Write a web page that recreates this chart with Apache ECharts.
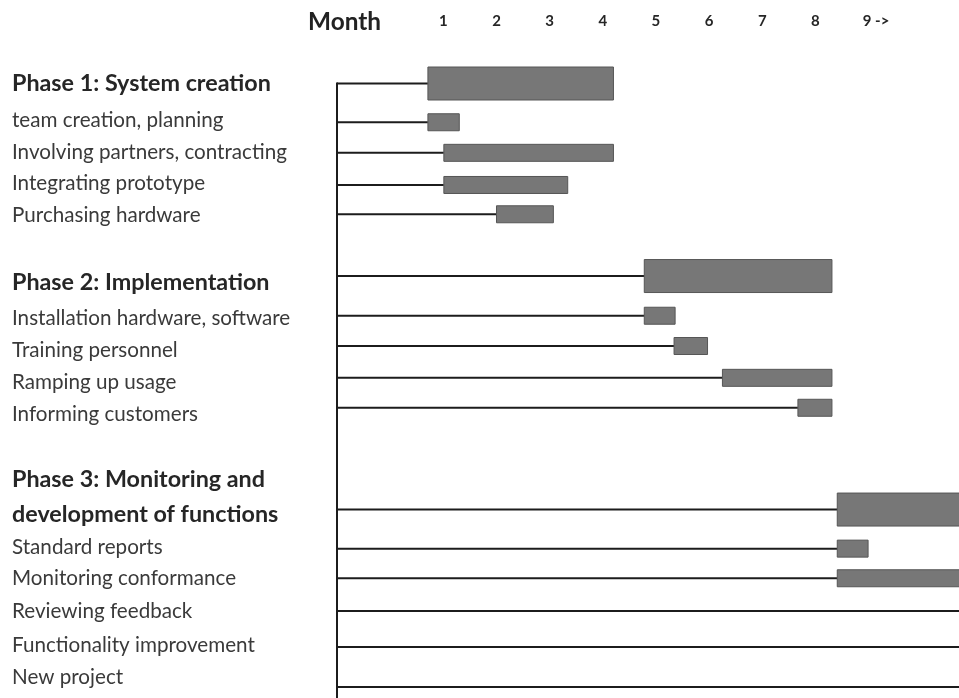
<!DOCTYPE html>
<html><head><meta charset="utf-8">
<script src="https://cdn.jsdelivr.net/npm/echarts@6/dist/echarts.min.js"></script>
<style>html,body{margin:0;padding:0;background:#fff}#c{width:959px;height:698px}</style>
</head><body><div id="c"></div>
<script>
// ---- axis / header ----
const xMin = -1;           // project start (bracket line)
const xMax = 10.7;         // right edge of the view (months)
const monthTicks = [1, 2, 3, 4, 5, 6, 7, 8, 9];
const monthLabels = ['1', '2', '3', '4', '5', '6', '7', '8', '9 ->'];
const headerTitle = 'Month';

// ---- left-hand labels (text and row position) ----
const labelTexts = [
  'Phase 1: System creation',
  'team creation, planning',
  'Involving partners, contracting',
  'Integrating prototype',
  'Purchasing hardware',
  'Phase 2: Implementation',
  'Installation hardware, software',
  'Training personnel',
  'Ramping up usage',
  'Informing customers',
  'Phase 3: Monitoring and',
  'development of functions',
  'Standard reports',
  'Monitoring conformance',
  'Reviewing feedback',
  'Functionality improvement',
  'New project'
];
const labelBold = [1,0,0,0,0, 1,0,0,0,0, 1,1,0,0,0,0,0];
const labelRow = [0, 1.16, 2.17, 3.17, 4.17, 6.30, 7.44, 8.46, 9.48, 10.49, 12.56, 13.67, 14.71, 15.70, 16.75, 17.83, 18.84];

// ---- tasks (row of connector line, start month, end month) ----
const taskRow   = [0, 1.23, 2.20, 3.22, 4.15, 6.11, 7.37, 8.33, 9.34, 10.29, 13.52, 14.76, 15.70, 16.74, 17.88, 19.15];
const taskStart = [0.71, 0.71, 1.01, 1.01, 2.00, 4.78, 4.78, 5.34, 6.25, 7.67, 8.41, 8.41, 8.41, null, null, null];
const taskEnd   = [4.20, 1.30, 4.20, 3.34, 3.07, 8.31, 5.36, 5.97, 8.31, 8.31, 11, 8.99, 11, null, null, null];
const taskPhase = [1,0,0,0,0, 1,0,0,0,0, 1,0,0,0,0,0];
const rowBottom = 19.5;

// ---- font fitting to the reference text widths ----
const FAMILY = 'Lato';
const mctx = document.createElement('canvas').getContext('2d');
function fit(text, weight, target) {
  mctx.font = weight + ' 100px ' + FAMILY;
  return 100 * target / mctx.measureText(text).width;
}
const regSize = fit('Involving partners, contracting', 'normal', 275);
const boldSize = fit('Phase 1: System creation', 'bold', 259);
const monthSize = fit('Month', 'bold', 73);
const tickSize = 15;
mctx.font = 'bold ' + tickSize + 'px ' + FAMILY;
const lastW = mctx.measureText(monthLabels[monthLabels.length - 1]).width;
const firstGlyphW = mctx.measureText('9').width;
const lastPad = Math.max(0, lastW - firstGlyphW - 3);

const chart = echarts.init(document.getElementById('c'), null, {renderer: 'canvas'});

const labelData = labelTexts.map((t, i) => [xMin, labelRow[i], i]);
const connData = taskRow.map((r, i) => [taskStart[i] == null ? xMax : taskStart[i], r, i]);
const barData = [];
taskRow.forEach((r, i) => { if (taskStart[i] != null) barData.push([taskStart[i], taskEnd[i], r, taskPhase[i]]); });

chart.setOption({
  animation: false,
  grid: {left: 337, right: 0, top: 83.5, bottom: 0},
  xAxis: {
    type: 'value', position: 'top', min: xMin, max: xMax, interval: 1,
    axisLine: {show: false}, axisTick: {show: false}, splitLine: {show: false},
    axisLabel: {
      margin: 54, fontFamily: FAMILY, fontWeight: 'bold', fontSize: tickSize, color: '#262626', lineHeight: 16,
      showMaxLabel: false, showMinLabel: false,
      formatter: v => {
        const k = monthTicks.indexOf(v);
        if (k < 0) return '';
        return k === monthTicks.length - 1 ? '{w|' + monthLabels[k] + '}' : monthLabels[k];
      },
      rich: {w: {fontFamily: FAMILY, fontWeight: 'bold', fontSize: tickSize, color: '#262626', lineHeight: 16,
        padding: [0, 0, 0, lastPad]}}
    }
  },
  yAxis: {
    type: 'value', inverse: true, min: 0, max: rowBottom,
    axisLine: {show: false}, axisTick: {show: false}, splitLine: {show: false}, axisLabel: {show: false}
  },
  graphic: [{
    type: 'text', left: 308, top: 10,
    style: {text: headerTitle, font: 'bold ' + monthSize.toFixed(2) + 'px ' + FAMILY, fill: '#222'}
  }],
  series: [
    { // bracket (vertical) line
      type: 'custom', silent: true, z: 1, clip: false,
      data: [[xMin, 0, rowBottom]],
      renderItem: (params, api) => {
        const a = api.coord([api.value(0), api.value(1)]);
        const b = api.coord([api.value(0), api.value(2)]);
        return {type: 'line', shape: {x1: a[0], y1: a[1] - 1, x2: b[0], y2: b[1] + 2},
          style: {stroke: '#1c1c1c', lineWidth: 2}};
      }
    },
    { // connector lines
      type: 'custom', silent: true, z: 2, clip: false,
      data: connData,
      renderItem: (params, api) => {
        const row = api.value(1);
        const a = api.coord([xMin, row]);
        const b = api.coord([api.value(0), row]);
        const right = params.coordSys.x + params.coordSys.width;
        return {type: 'line', shape: {x1: a[0], y1: a[1], x2: Math.min(b[0], right), y2: b[1]},
          style: {stroke: '#1c1c1c', lineWidth: 2}};
      }
    },
    { // bars
      type: 'custom', silent: true, z: 3, clip: false,
      data: barData,
      renderItem: (params, api) => {
        const s = api.coord([api.value(0), api.value(2)]);
        const e = api.coord([api.value(1), api.value(2)]);
        const h = api.value(3) ? 33 : 17;
        const right = params.coordSys.x + params.coordSys.width + 2;
        const x2 = Math.min(e[0], right);
        return {type: 'rect', shape: {x: s[0], y: s[1] - h / 2, width: x2 - s[0], height: h},
          style: {fill: '#777777', stroke: '#565656', lineWidth: 1}};
      }
    },
    { // left labels
      type: 'custom', silent: true, z: 4, clip: false,
      data: labelData,
      renderItem: (params, api) => {
        const i = api.value(2);
        const p = api.coord([api.value(0), api.value(1)]);
        const bold = labelBold[i];
        return {type: 'text', x: 12, y: p[1],
          style: {text: labelTexts[i],
            font: (bold ? 'bold ' + boldSize.toFixed(2) : 'normal ' + regSize.toFixed(2)) + 'px ' + FAMILY,
            fill: bold ? '#262626' : '#3a3a3a', align: 'left', verticalAlign: 'middle'}};
      }
    }
  ]
});
</script></body></html>
